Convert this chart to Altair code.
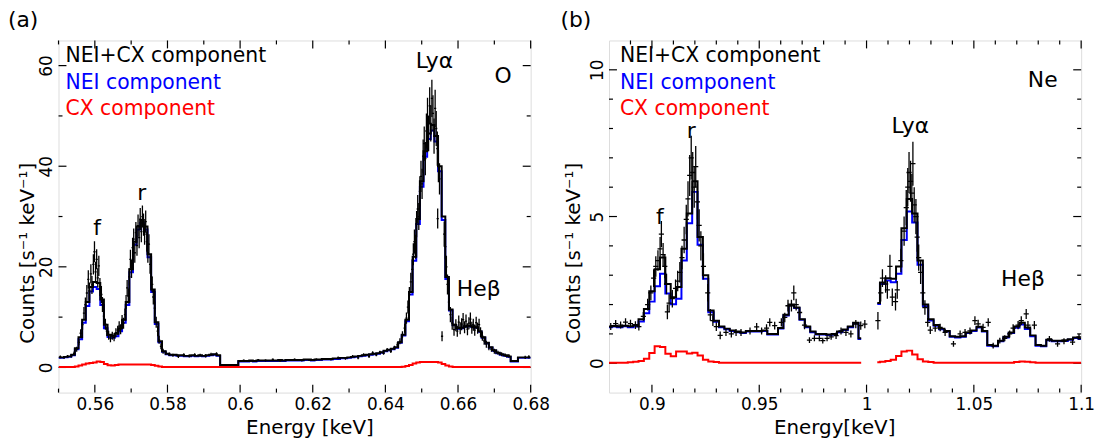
import altair as alt
import pandas as pd
import numpy as np

FONT = "DejaVu Sans"
W, H = 476, 355

# ---------------- panel (a): O ----------------
A_E0, A_DE, A_N = 0.550, 0.001, 131
A_TOT = [2.0, 2.0, 2.1, 2.2, 2.5, 3.8, 6.0, 9.5, 13.0, 16.0,
         17.0, 16.8, 13.5, 8.5, 6.5, 6.3, 6.7, 7.8, 9.5, 13.0,
         19.5, 25.0, 28.0, 29.3, 28.0, 22.5, 15.5, 9.0, 5.2, 3.2,
         2.7, 2.5, 2.5, 2.4, 2.4, 2.3, 2.3, 2.4, 2.3, 2.4,
         2.3, 2.4, 2.5, 2.6, 2.4, 0.5, 0.5, 0.5, 0.5, 0.5,
         1.3, 1.3, 1.3, 1.4, 1.3, 1.4, 1.4, 1.4, 1.4, 1.4,
         1.4, 1.5, 1.4, 1.5, 1.5, 1.5, 1.5, 1.5, 1.6, 1.6,
         1.5, 1.6, 1.6, 1.7, 1.7, 1.7, 1.8, 1.8, 1.9, 1.9,
         2.0, 2.1, 2.2, 2.3, 2.4, 2.5, 2.6, 2.7, 2.8, 3.0,
         3.3, 3.5, 3.7, 4.0, 5.0, 6.5, 9.5, 15.0, 22.0, 29.5,
         37.0, 43.0, 46.5, 48.2, 46.0, 40.0, 30.0, 18.0, 11.5, 8.5,
         7.8, 7.9, 8.2, 8.3, 8.2, 8.0, 7.2, 6.0, 4.9, 4.0,
         3.4, 2.9, 2.6, 2.4, 2.2, 1.3, 1.3, 2.0, 2.0, 2.0,
         2.0]
A_NEI = [1.9, 1.9, 2.0, 2.1, 2.4, 3.6, 5.6, 8.9, 12.2, 15.1,
         16.0, 15.6, 12.4, 7.8, 6.05, 5.9, 6.2, 7.2, 8.9, 12.4,
         18.9, 24.4, 27.4, 28.7, 27.4, 21.9, 15.0, 8.65, 5.0, 3.1,
         2.6, 2.4, 2.4, 2.3, 2.3, 2.2, 2.2, 2.3, 2.2, 2.3,
         2.2, 2.3, 2.4, 2.5, 2.3, 0.4, 0.4, 0.4, 0.4, 0.4,
         1.2, 1.2, 1.2, 1.3, 1.2, 1.3, 1.3, 1.3, 1.3, 1.3,
         1.3, 1.4, 1.3, 1.4, 1.4, 1.4, 1.4, 1.4, 1.5, 1.5,
         1.4, 1.5, 1.5, 1.6, 1.6, 1.6, 1.7, 1.7, 1.8, 1.8,
         1.9, 2.0, 2.1, 2.2, 2.3, 2.4, 2.5, 2.6, 2.7, 2.9,
         3.2, 3.4, 3.6, 3.9, 4.9, 6.35, 9.2, 14.5, 21.2, 28.5,
         35.9, 41.9, 45.4, 47.1, 44.9, 39.0, 29.3, 17.6, 11.3, 8.4,
         7.7, 7.8, 8.1, 8.2, 8.1, 7.9, 7.1, 5.9, 4.8, 3.9,
         3.3, 2.8, 2.5, 2.3, 2.1, 1.2, 1.2, 1.9, 1.9, 1.9,
         1.9]
A_CX = [0.1, 0.1, 0.1, 0.1, 0.1, 0.2, 0.4, 0.6, 0.8, 0.9,
        1.0, 1.2, 1.1, 0.7, 0.45, 0.4, 0.5, 0.6, 0.6, 0.6,
        0.6, 0.6, 0.6, 0.6, 0.6, 0.6, 0.5, 0.35, 0.2, 0.1,
        0.1, 0.1, 0.1, 0.1, 0.1, 0.1, 0.1, 0.1, 0.1, 0.1,
        0.1, 0.1, 0.1, 0.1, 0.1, 0.1, 0.1, 0.1, 0.1, 0.1,
        0.1, 0.1, 0.1, 0.1, 0.1, 0.1, 0.1, 0.1, 0.1, 0.1,
        0.1, 0.1, 0.1, 0.1, 0.1, 0.1, 0.1, 0.1, 0.1, 0.1,
        0.1, 0.1, 0.1, 0.1, 0.1, 0.1, 0.1, 0.1, 0.1, 0.1,
        0.1, 0.1, 0.1, 0.1, 0.1, 0.1, 0.1, 0.1, 0.1, 0.1,
        0.1, 0.1, 0.1, 0.1, 0.1, 0.15, 0.3, 0.5, 0.8, 1.0,
        1.1, 1.1, 1.1, 1.1, 1.1, 1.0, 0.7, 0.4, 0.2, 0.1,
        0.1, 0.1, 0.1, 0.1, 0.1, 0.1, 0.1, 0.1, 0.1, 0.1,
        0.1, 0.1, 0.1, 0.1, 0.1, 0.1, 0.1, 0.1, 0.1, 0.1,
        0.1]

A_PE = [0.5505, 0.5515, 0.5525, 0.5535, 0.5543, 0.5550, 0.5556, 0.5561, 0.5566, 0.5570,
        0.5574, 0.5578, 0.5582, 0.5585, 0.5589, 0.5592, 0.5596, 0.5599, 0.5602, 0.5605,
        0.5608, 0.5611, 0.5614, 0.5618, 0.5621, 0.5625, 0.5629, 0.5633, 0.5638, 0.5643,
        0.5648, 0.5653, 0.5658, 0.5663, 0.5667, 0.5671, 0.5675, 0.5679, 0.5683, 0.5686,
        0.5689, 0.5692, 0.5695, 0.5698, 0.5701, 0.5704, 0.5707, 0.5710, 0.5713, 0.5716,
        0.5719, 0.5722, 0.5725, 0.5728, 0.5731, 0.5734, 0.5737, 0.5740, 0.5743, 0.5746,
        0.5749, 0.5752, 0.5755, 0.5758, 0.5761, 0.5765, 0.5769, 0.5773, 0.5777, 0.5782,
        0.5788, 0.5795, 0.5805, 0.5815, 0.5830, 0.5845, 0.5860, 0.5875, 0.5890, 0.5905,
        0.5920, 0.5935,
        0.6010, 0.6030, 0.6050, 0.6070, 0.6090, 0.6110, 0.6130, 0.6150, 0.6170, 0.6190,
        0.6210, 0.6230, 0.6250, 0.6270, 0.6290, 0.6310, 0.6325, 0.6340, 0.6355, 0.6365,
        0.6375, 0.6385, 0.6395, 0.6405, 0.6415, 0.6425, 0.6433, 0.6440, 0.6447, 0.6453,
        0.6458, 0.6462, 0.6466, 0.6470, 0.6474, 0.6477, 0.6480, 0.6483, 0.6486, 0.6489,
        0.6492, 0.6495, 0.6498, 0.6501, 0.6504, 0.6507, 0.6510, 0.6513, 0.6516, 0.6519,
        0.6522, 0.6525, 0.6528, 0.6531, 0.6534, 0.6537, 0.6540, 0.6543, 0.6546, 0.6549,
        0.6544, 0.6556, 0.6562, 0.6565, 0.6568, 0.6571, 0.6575, 0.6579, 0.6584, 0.6589,
        0.6594, 0.6598, 0.6602, 0.6606, 0.6610, 0.6614, 0.6618, 0.6622, 0.6626, 0.6630,
        0.6634, 0.6638, 0.6642, 0.6646, 0.6650, 0.6654, 0.6658, 0.6662, 0.6667, 0.6672,
        0.6678, 0.6685, 0.6692, 0.6700, 0.6710, 0.6720, 0.6730, 0.6740, 0.6785, 0.6795]
A_PV = [2.1, 2.0, 2.2, 2.3, 2.8, 3.6, 5.0, 6.8, 8.5, 10.8,
        12.5, 14.8, 17.5, 15.2, 18.6, 16.4, 20.5, 23.0, 19.0, 21.5,
        17.8, 20.2, 16.0, 14.5, 12.5, 10.2, 8.6, 7.2, 6.4, 5.8,
        6.3, 6.0, 6.9, 7.4, 8.2, 7.6, 9.3, 8.8, 10.5, 13.0,
        15.8, 14.2, 18.0, 21.5, 19.6, 23.8, 25.5, 22.8, 26.8, 24.2,
        28.2, 25.8, 29.5, 27.0, 30.0, 28.4, 26.5, 29.0, 25.0, 22.8,
        24.5, 20.5, 18.0, 16.5, 14.0, 11.8, 9.0, 7.2, 5.5, 4.2,
        3.2, 2.9, 2.6, 2.4, 2.2, 2.5, 2.3, 2.5, 2.4, 2.3,
        2.6, 2.7,
        1.4, 1.3, 1.5, 1.4, 1.6, 1.3, 1.5, 1.6, 1.4, 1.5,
        1.6, 1.7, 1.6, 1.9, 1.8, 2.2, 1.9, 2.5, 2.2, 2.9,
        2.5, 3.0, 2.8, 3.5, 3.2, 3.9, 4.5, 5.2, 6.5, 7.8,
        9.8, 12.0, 14.5, 17.0, 19.5, 22.5, 25.0, 24.0, 28.5, 31.5,
        30.0, 35.0, 38.0, 36.5, 42.0, 44.5, 41.5, 47.0, 50.0, 46.5,
        52.0, 48.5, 53.5, 50.5, 46.0, 51.5, 47.5, 43.5, 40.0, 37.5,
        29.6, 6.2, 26.5, 24.0, 20.0, 16.5, 13.0, 10.5, 8.8, 7.5,
        8.4, 7.2, 9.0, 7.8, 8.6, 9.5, 8.0, 9.2, 7.6, 8.8,
        9.6, 7.9, 8.5, 7.4, 8.9, 7.8, 8.5, 7.0, 6.2, 5.3,
        4.6, 4.0, 3.6, 3.2, 2.9, 2.6, 2.4, 2.3, 2.0, 2.1]
A_PERR = [0.25, 0.25, 0.25, 0.3, 0.35, 0.5, 0.6, 0.8, 1.0, 1.2,
          1.4, 1.6, 1.8, 1.7, 1.9, 1.8, 2.0, 2.1, 2.0, 2.0,
          1.9, 2.0, 1.8, 1.7, 1.5, 1.3, 1.1, 1.0, 0.9, 0.8,
          0.8, 0.8, 0.9, 0.9, 1.0, 1.0, 1.1, 1.1, 1.2, 1.4,
          1.6, 1.5, 1.7, 1.9, 1.8, 2.0, 2.1, 2.0, 2.1, 2.0,
          2.2, 2.1, 2.2, 2.1, 2.2, 2.2, 2.1, 2.2, 2.0, 2.0,
          2.0, 1.9, 1.7, 1.6, 1.5, 1.3, 1.1, 1.0, 0.8, 0.6,
          0.5, 0.4, 0.35, 0.3, 0.3, 0.3, 0.3, 0.3, 0.3, 0.3,
          0.3, 0.3,
          0.2, 0.2, 0.2, 0.2, 0.2, 0.2, 0.2, 0.2, 0.2, 0.2,
          0.2, 0.2, 0.2, 0.25, 0.25, 0.25, 0.25, 0.3, 0.3, 0.3,
          0.3, 0.3, 0.3, 0.35, 0.35, 0.4, 0.5, 0.6, 0.7, 0.9,
          1.1, 1.3, 1.5, 1.8, 2.0, 2.2, 2.4, 2.4, 2.6, 2.8,
          2.7, 3.0, 3.1, 3.0, 3.3, 3.4, 3.3, 3.5, 3.6, 3.5,
          3.7, 3.6, 3.7, 3.6, 3.5, 3.7, 3.5, 3.4, 3.2, 3.1,
          2.0, 1.0, 2.5, 2.4, 2.2, 2.0, 1.7, 1.5, 1.3, 1.2,
          1.2, 1.1, 1.3, 1.2, 1.2, 1.3, 1.2, 1.3, 1.2, 1.2,
          1.3, 1.2, 1.2, 1.1, 1.2, 1.1, 1.2, 1.0, 0.9, 0.8,
          0.7, 0.6, 0.5, 0.5, 0.4, 0.4, 0.35, 0.35, 0.3, 0.3]
A_PXERR = 0.0003

A_XDOM, A_YDOM = [0.55, 0.68], [-5, 65]
A_XMAJ = [0.56, 0.58, 0.60, 0.62, 0.64, 0.66, 0.68]
A_XMIN = [0.55, 0.57, 0.59, 0.61, 0.63, 0.65, 0.67]
A_YMAJ = [0, 20, 40, 60]
A_YMIN = [10, 30, 50]
A_ANN_X = [0.5606, 0.5729, 0.6535, 0.6657, 0.6724]
A_ANN_Y = [26.4, 33.3, 59.6, 14.2, 56.5]
A_ANN_T = ["f", "r", "Lyα", "Heβ", "O"]

# ---------------- panel (b): Ne ----------------
B_E0, B_DE = 0.880, 0.0025
B_K1 = list(range(0, 48))
B_K2 = list(range(50, 89))
B_TOT1 = [1.25, 1.27, 1.25, 1.28, 1.26, 1.30, 1.50, 1.85, 2.45, 3.20,
          3.60, 2.70, 2.25, 2.60, 3.90, 5.10, 6.20, 4.30, 3.00, 1.80,
          1.45, 1.25, 1.18, 1.12, 1.08, 1.05, 1.10, 1.10, 1.10, 1.12,
          1.00, 1.00, 1.20, 1.65, 2.00, 1.90, 1.50, 1.25, 1.08, 1.00,
          1.00, 0.98, 1.00, 1.08, 1.15, 1.25, 1.38, 0.85]
B_TOT2 = [2.05, 2.75, 2.90, 2.88, 3.30, 4.60, 5.60, 5.10, 3.50, 2.00,
          1.50, 1.30, 1.18, 1.10, 0.92, 0.90, 0.92, 1.05, 1.12, 1.24,
          1.10, 0.62, 0.60, 0.77, 0.90, 1.05, 1.25, 1.38, 1.22, 0.95,
          0.62, 0.60, 0.80, 0.77, 0.77, 0.78, 0.82, 0.88, 0.85]
B_NEI1 = [1.23, 1.25, 1.23, 1.26, 1.23, 1.25, 1.42, 1.70, 2.10, 2.62,
          3.05, 2.38, 2.01, 2.20, 3.50, 4.77, 5.84, 4.04, 2.88, 1.74,
          1.41, 1.23, 1.16, 1.10, 1.06, 1.03, 1.08, 1.08, 1.08, 1.10,
          0.98, 0.98, 1.18, 1.63, 1.98, 1.88, 1.48, 1.23, 1.06, 0.98,
          0.98, 0.96, 0.98, 1.06, 1.13, 1.23, 1.36, 0.83]
B_NEI2 = [2.02, 2.70, 2.82, 2.76, 3.05, 4.20, 5.17, 4.80, 3.36, 1.94,
          1.46, 1.28, 1.16, 1.08, 0.90, 0.88, 0.90, 1.03, 1.10, 1.22,
          1.08, 0.60, 0.58, 0.75, 0.88, 1.03, 1.21, 1.32, 1.17, 0.92,
          0.60, 0.58, 0.78, 0.75, 0.75, 0.76, 0.80, 0.86, 0.83]
B_CX1 = [0.02, 0.02, 0.02, 0.02, 0.03, 0.05, 0.08, 0.15, 0.35, 0.58,
         0.55, 0.32, 0.24, 0.40, 0.40, 0.33, 0.36, 0.26, 0.12, 0.06,
         0.04, 0.02, 0.02, 0.02, 0.02, 0.02, 0.02, 0.02, 0.02, 0.02,
         0.02, 0.02, 0.02, 0.02, 0.02, 0.02, 0.02, 0.02, 0.02, 0.02,
         0.02, 0.02, 0.02, 0.02, 0.02, 0.02, 0.02, 0.02]
B_CX2 = [0.03, 0.05, 0.08, 0.12, 0.25, 0.40, 0.43, 0.30, 0.14, 0.06,
         0.04, 0.02, 0.02, 0.02, 0.02, 0.02, 0.02, 0.02, 0.02, 0.02,
         0.02, 0.02, 0.02, 0.02, 0.02, 0.02, 0.04, 0.06, 0.05, 0.03,
         0.02, 0.02, 0.02, 0.02, 0.02, 0.02, 0.02, 0.02, 0.02]

B_PE = [0.8808, 0.8831, 0.8854, 0.8877, 0.8900, 0.8923, 0.8939, 0.8960, 0.8980, 0.8995,
        0.9008, 0.9018, 0.9028, 0.9038, 0.9044, 0.9052, 0.9060, 0.9068, 0.9072, 0.9080,
        0.9095, 0.9110, 0.9120, 0.9130, 0.9140, 0.9150, 0.9160, 0.9168, 0.9176, 0.9183,
        0.9190, 0.9197, 0.9204, 0.9212, 0.9220, 0.9228, 0.9240, 0.9260, 0.9272, 0.9284,
        0.9300, 0.9318, 0.9345, 0.9370, 0.9392, 0.9415, 0.9457, 0.9488, 0.9511, 0.9534,
        0.9549, 0.9572, 0.9603, 0.9619, 0.9634, 0.9650, 0.9661, 0.9672, 0.9688, 0.9711,
        0.9734, 0.9757, 0.9780, 0.9796, 0.9816, 0.9835, 0.9858, 0.9881, 0.9904, 0.9927,
        0.9950, 0.9973, 0.9992, 1.0053, 1.0066, 1.0074, 1.0089, 1.0097, 1.0109, 1.0120,
        1.0135, 1.0143, 1.0160, 1.0175, 1.0185, 1.0192, 1.0198, 1.0205, 1.0211, 1.0216,
        1.0222, 1.0230, 1.0236, 1.0243, 1.0252, 1.0262, 1.0272, 1.0285, 1.0297, 1.0320,
        1.0343, 1.0366, 1.0405, 1.0436, 1.0459, 1.0482, 1.0505, 1.0520, 1.0543, 1.0567,
        1.0590, 1.0621, 1.0644, 1.0667, 1.0683, 1.0706, 1.0721, 1.0744, 1.0752, 1.0782,
        1.0852, 1.0890, 1.0920, 1.0960, 1.0990]
B_PV = [1.25, 1.35, 1.30, 1.40, 1.35, 1.30, 1.25, 1.60, 2.00, 2.40,
        2.90, 3.30, 3.50, 3.90, 4.40, 3.70, 3.30, 2.70, 1.75, 2.05,
        2.20, 2.55, 2.80, 3.10, 3.60, 4.20, 4.90, 5.60, 6.40, 7.00,
        6.50, 6.00, 6.70, 5.50, 4.70, 4.00, 3.30, 2.40, 1.65, 1.45,
        1.25, 0.95, 1.05, 1.00, 1.05, 1.05, 1.10, 1.24, 1.10, 1.20,
        1.39, 1.28, 1.39, 1.56, 1.96, 1.96, 2.40, 2.00, 1.73, 1.30,
        0.79, 0.85, 0.85, 0.77, 0.85, 0.90, 0.94, 1.10, 1.05, 1.00,
        1.33, 1.28, 1.33, 1.45, 2.40, 2.90, 2.70, 2.50, 3.30, 2.25,
        2.10, 2.50, 3.50, 4.50, 5.30, 6.00, 6.50, 6.20, 5.80, 6.80,
        5.40, 5.00, 4.30, 3.60, 3.10, 2.40, 1.90, 1.39, 1.13, 1.20,
        1.22, 1.05, 0.66, 1.00, 1.05, 1.10, 1.45, 1.34, 1.22, 1.39,
        0.60, 0.77, 0.85, 1.00, 1.20, 1.30, 1.45, 1.68, 1.30, 1.30,
        0.83, 0.66, 0.75, 0.72, 0.90]
B_PERR = [0.12, 0.12, 0.12, 0.13, 0.13, 0.13, 0.13, 0.15, 0.2, 0.25,
          0.3, 0.35, 0.35, 0.4, 0.45, 0.4, 0.4, 0.35, 0.25, 0.3,
          0.3, 0.3, 0.35, 0.35, 0.4, 0.45, 0.5, 0.6, 0.7, 0.75,
          0.7, 0.7, 0.7, 0.6, 0.55, 0.5, 0.45, 0.3, 0.2, 0.18,
          0.15, 0.13, 0.12, 0.12, 0.12, 0.12, 0.12, 0.13, 0.12, 0.13,
          0.14, 0.13, 0.14, 0.16, 0.2, 0.2, 0.25, 0.2, 0.18, 0.14,
          0.1, 0.1, 0.1, 0.1, 0.1, 0.1, 0.11, 0.12, 0.12, 0.12,
          0.14, 0.14, 0.14, 0.3, 0.3, 0.3, 0.3, 0.3, 0.4, 0.3,
          0.3, 0.3, 0.4, 0.5, 0.6, 0.65, 0.7, 0.7, 0.65, 0.75,
          0.6, 0.6, 0.5, 0.45, 0.4, 0.3, 0.25, 0.15, 0.13, 0.13,
          0.13, 0.12, 0.1, 0.12, 0.12, 0.12, 0.15, 0.14, 0.13, 0.14,
          0.1, 0.1, 0.1, 0.12, 0.13, 0.14, 0.15, 0.17, 0.14, 0.14,
          0.1, 0.1, 0.1, 0.1, 0.1]
B_PXERR = 0.0012

B_XDOM, B_YDOM = [0.88, 1.1], [-1, 11]
B_XMAJ = [0.90, 0.95, 1.00, 1.05, 1.10]
B_XMIN = [0.89, 0.91, 0.92, 0.93, 0.94, 0.96, 0.97, 0.98, 0.99,
          1.01, 1.02, 1.03, 1.04, 1.06, 1.07, 1.08, 1.09]
B_YMAJ = [0, 5, 10]
B_YMIN = [1, 2, 3, 4, 6, 7, 8, 9]
B_ANN_X = [0.9037, 0.9183, 1.0204, 1.0729, 1.0821]
B_ANN_Y = [4.73, 7.68, 7.83, 2.63, 9.41]
B_ANN_T = ["f", "r", "Lyα", "Heβ", "Ne"]

LEGEND_T = ["NEI+CX component", "NEI component", "CX component"]
LEGEND_C = ["black", "#0000ff", "#ff0000"]


def build_panel(model_df, pts_df, xdom, ydom, xmaj, xmin, ymaj, ymin,
                ann_df, xtitle, xtitle_x, ytitle_x, leg_x, tag, tag_x):
    xs = alt.Scale(domain=xdom, nice=False, zero=False)
    ys = alt.Scale(domain=ydom, nice=False, zero=False)
    ax = alt.Axis(values=xmaj, format="~g", title=xtitle, grid=False, domain=False,
                  ticks=False, tickSize=0, labelFont=FONT, labelFontSize=17,
                  labelColor="black", labelPadding=4, labelFlush=False,
                  titleFont=FONT, titleFontSize=20, titleFontWeight="normal",
                  titleColor="black", titleX=xtitle_x, titleY=41,
                  titleAlign="center", titleBaseline="alphabetic")
    ay = alt.Axis(values=ymaj, format="d", title="Counts [s⁻¹ keV⁻¹]", grid=False,
                  domain=False, ticks=False, tickSize=0, labelFont=FONT,
                  labelFontSize=17, labelColor="black", labelAngle=270,
                  labelAlign="center", labelBaseline="bottom", labelPadding=3,
                  labelFlush=False, titleFont=FONT, titleFontSize=20,
                  titleFontWeight="normal", titleColor="black", titleAngle=270,
                  titleX=ytitle_x, titleY=214, titleAlign="center",
                  titleBaseline="alphabetic")

    def X(f):
        return alt.X(f, type="quantitative", scale=xs, axis=ax)

    def Y(f):
        return alt.Y(f, type="quantitative", scale=ys, axis=ay)

    layers = []
    # inward ticks on all four sides
    for vals, ln in ((xmaj, 8), (xmin, 4)):
        d = pd.DataFrame({"t": vals})
        layers.append(alt.Chart(d).mark_rule(color="black", strokeWidth=1.2).encode(
            x=X("t"), y=alt.value(0), y2=alt.value(ln)))
        layers.append(alt.Chart(d).mark_rule(color="black", strokeWidth=1.2).encode(
            x=X("t"), y=alt.value(H), y2=alt.value(H - ln)))
    for vals, ln in ((ymaj, 8), (ymin, 4)):
        d = pd.DataFrame({"t": vals})
        layers.append(alt.Chart(d).mark_rule(color="black", strokeWidth=1.2).encode(
            y=Y("t"), x=alt.value(0), x2=alt.value(ln)))
        layers.append(alt.Chart(d).mark_rule(color="black", strokeWidth=1.2).encode(
            y=Y("t"), x=alt.value(W), x2=alt.value(W - ln)))

    # NEI model (blue), under the total
    layers.append(alt.Chart(model_df).mark_line(
        interpolate="step", color="#0000ff", strokeWidth=2, clip=True).encode(
        x=X("E"), y=Y("nei"), detail="seg:N"))
    # data crosses
    layers.append(alt.Chart(pts_df).mark_rule(color="black", strokeWidth=1.3, clip=True).encode(
        x=X("E"), y=Y("lo"), y2="hi"))
    layers.append(alt.Chart(pts_df).mark_rule(color="black", strokeWidth=1.3, clip=True).encode(
        x=X("xlo"), x2="xhi", y=Y("v")))
    # total model
    layers.append(alt.Chart(model_df).mark_line(
        interpolate="step", color="black", strokeWidth=2, clip=True).encode(
        x=X("E"), y=Y("tot"), detail="seg:N"))
    # CX model
    layers.append(alt.Chart(model_df).mark_line(
        interpolate="step", color="#ff0000", strokeWidth=2, clip=True).encode(
        x=X("E"), y=Y("cx"), detail="seg:N"))
    # line labels
    layers.append(alt.Chart(ann_df).mark_text(
        font=FONT, fontSize=22, color="black", align="center", baseline="alphabetic").encode(
        x=X("x"), y=Y("y"), text="t:N"))
    # in-plot legend
    for i, (txt, col) in enumerate(zip(LEGEND_T, LEGEND_C)):
        layers.append(alt.Chart(pd.DataFrame({"t": [txt]})).mark_text(
            font=FONT, fontSize=20.5, color=col, align="left", baseline="alphabetic").encode(
            text="t:N", x=alt.value(leg_x), y=alt.value(22 + 26.7 * i)))
    # panel tag
    layers.append(alt.Chart(pd.DataFrame({"t": [tag]})).mark_text(
        font=FONT, fontSize=22, color="black", align="left", baseline="alphabetic").encode(
        text="t:N", x=alt.value(tag_x), y=alt.value(-14)))
    return alt.layer(*layers).properties(width=W, height=H)


# ---- assemble tables ----
a_E = [round(A_E0 + A_DE * i, 4) for i in range(A_N)]
a_model = pd.DataFrame({"E": a_E, "tot": A_TOT, "nei": A_NEI, "cx": A_CX, "seg": 0})
a_pts = pd.DataFrame({"E": A_PE, "v": A_PV, "err": A_PERR})
a_pts["lo"] = a_pts["v"] - a_pts["err"]
a_pts["hi"] = a_pts["v"] + a_pts["err"]
a_pts["xlo"] = a_pts["E"] - A_PXERR
a_pts["xhi"] = a_pts["E"] + A_PXERR
a_ann = pd.DataFrame({"x": A_ANN_X, "y": A_ANN_Y, "t": A_ANN_T})

b_model = pd.concat([
    pd.DataFrame({"E": [round(B_E0 + B_DE * k, 4) for k in B_K1],
                  "tot": B_TOT1, "nei": B_NEI1, "cx": B_CX1, "seg": 0}),
    pd.DataFrame({"E": [round(B_E0 + B_DE * k, 4) for k in B_K2],
                  "tot": B_TOT2, "nei": B_NEI2, "cx": B_CX2, "seg": 1}),
], ignore_index=True)
b_pts = pd.DataFrame({"E": B_PE, "v": B_PV, "err": B_PERR})
b_pts["lo"] = b_pts["v"] - b_pts["err"]
b_pts["hi"] = b_pts["v"] + b_pts["err"]
b_pts["xlo"] = b_pts["E"] - B_PXERR
b_pts["xhi"] = b_pts["E"] + B_PXERR
b_ann = pd.DataFrame({"x": B_ANN_X, "y": B_ANN_Y, "t": B_ANN_T})

pa = build_panel(a_model, a_pts, A_XDOM, A_YDOM, A_XMAJ, A_XMIN, A_YMAJ, A_YMIN,
                 a_ann, "Energy [keV]", 253, -25, 7, "(a)", -51)
pb = build_panel(b_model, b_pts, B_XDOM, B_YDOM, B_XMAJ, B_XMIN, B_YMAJ, B_YMIN,
                 b_ann, "Energy[keV]", 227, -30, 11, "(b)", -49)

chart = alt.hconcat(pa, pb, spacing=79, bounds="flush").properties(
    padding={"left": 7, "top": 6, "right": 4, "bottom": 0},
    background="white",
).configure_view(stroke="black", strokeWidth=1.5).configure(font=FONT)

chart.save("out.html", embed_options={"renderer": "svg", "actions": False})
